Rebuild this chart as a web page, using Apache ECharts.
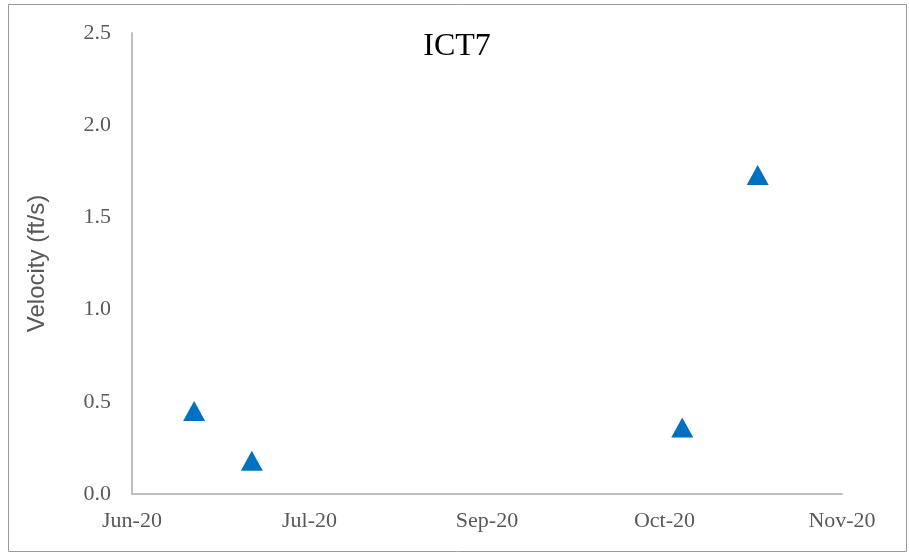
<!DOCTYPE html>
<html lang="en">
<head>
    <meta charset="utf-8">
    <title>ICT7</title>
    <script src="https://cdn.jsdelivr.net/npm/echarts@6/dist/echarts.min.js"></script>
    <style>
        html, body { margin: 0; padding: 0; background: #fff; }
        #chart { width: 909px; height: 553px; }
    </style>
</head>
<body>
    <div id="chart"></div>
    <script type="text/javascript">
        // measurement dates and velocities (ft/s)
        var sampleDates = ['2020-06-29', '2020-07-12', '2020-10-17', '2020-11-03'];
        var velocities = [0.45, 0.18, 0.36, 1.73];

        // x axis: starts at startDate, one tick every stepDays
        var startDate = '2020-06-15';
        var stepDays = 40;
        var tickCount = 4;
        var monthNames = ['Jan', 'Feb', 'Mar', 'Apr', 'May', 'Jun', 'Jul', 'Aug', 'Sep', 'Oct', 'Nov', 'Dec'];

        var dayMs = 24 * 3600 * 1000;
        var t0 = Date.parse(startDate + 'T00:00:00Z');

        function dayOffset(s) {
            return Math.round((Date.parse(s + 'T00:00:00Z') - t0) / dayMs);
        }

        var points = [];
        for (var i = 0; i < sampleDates.length; i++) {
            points.push([dayOffset(sampleDates[i]), velocities[i]]);
        }

        var myChart = echarts.init(document.getElementById('chart'));

        var serif = '"Liberation Serif", "Times New Roman", serif';

        var option = {
            backgroundColor: '#fff',
            animation: false,
            title: {
                text: 'ICT7',
                left: 452,
                top: 26,
                textAlign: 'center',
                textStyle: {
                    fontFamily: serif,
                    fontSize: 32,
                    fontWeight: 'normal',
                    color: '#000'
                }
            },
            graphic: [{
                type: 'rect',
                shape: { x: 8.5, y: 4.5, width: 898, height: 547 },
                style: { fill: 'none', stroke: '#9a9a9a', lineWidth: 1 },
                silent: true
            }],
            grid: {
                left: 132,
                right: 67,
                top: 33,
                bottom: 59
            },
            xAxis: {
                type: 'value',
                min: 0,
                max: stepDays * tickCount,
                interval: stepDays,
                splitLine: { show: false },
                axisTick: { show: false },
                axisLine: { lineStyle: { color: '#bfbfbf', width: 2 } },
                axisLabel: {
                    margin: 16,
                    fontFamily: serif,
                    fontSize: 22,
                    color: '#595959',
                    formatter: function (v) {
                        var d = new Date(t0 + v * dayMs);
                        var yy = String(d.getUTCFullYear()).slice(2);
                        return monthNames[d.getUTCMonth()] + '-' + yy;
                    }
                }
            },
            yAxis: {
                type: 'value',
                min: 0,
                max: 2.5,
                interval: 0.5,
                name: 'Velocity (ft/s)',
                nameLocation: 'middle',
                nameGap: 83,
                nameTextStyle: {
                    fontFamily: '"Liberation Sans", Arial, sans-serif',
                    fontSize: 24,
                    color: '#595959'
                },
                splitLine: { show: false },
                axisTick: { show: false },
                axisLine: { show: true, lineStyle: { color: '#bfbfbf', width: 2 } },
                axisLabel: {
                    margin: 21,
                    fontFamily: serif,
                    fontSize: 22,
                    color: '#595959',
                    formatter: function (v) { return v.toFixed(1); }
                }
            },
            series: [{
                type: 'scatter',
                symbol: 'triangle',
                symbolSize: [22, 20],
                itemStyle: { color: '#0070c0', opacity: 1 },
                data: points
            }]
        };

        myChart.setOption(option);
    </script>
</body>
</html>
